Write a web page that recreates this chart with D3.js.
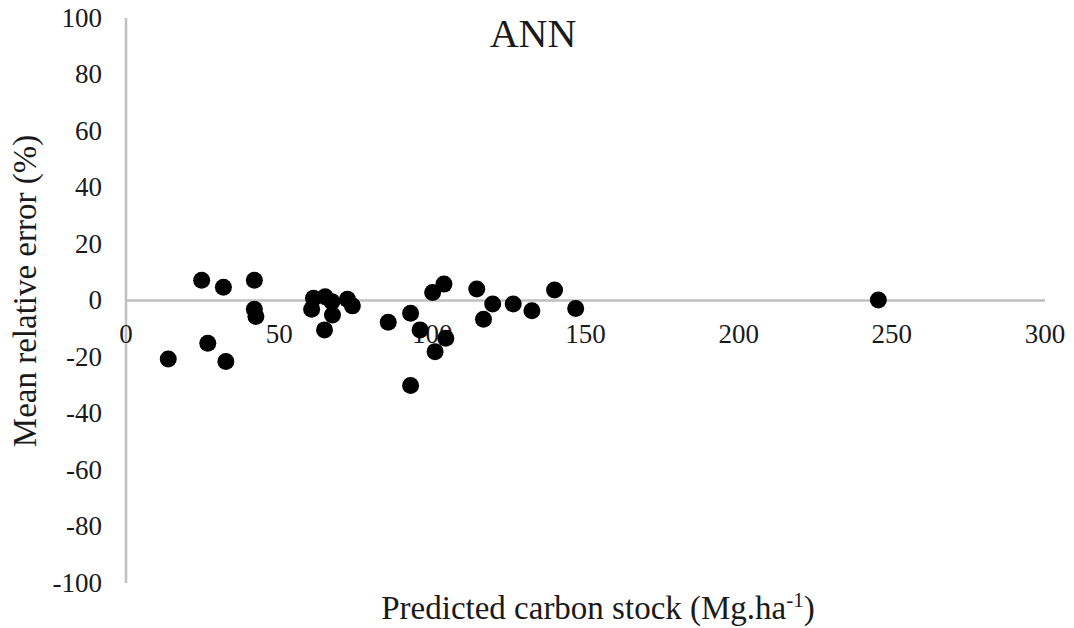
<!DOCTYPE html>
<html><head><meta charset="utf-8">
<script src="https://cdn.jsdelivr.net/npm/d3@7"></script>
<style>body{margin:0;background:#fff}svg{display:block}text{font-family:"Liberation Serif","Times New Roman",serif;fill:#1a1a1a}</style>
</head><body><svg id="c" width="1074" height="628"></svg>
<script>
const predicted = [13.8,24.7,26.7,31.8,32.6,41.9,41.9,42.4,60.6,61.2,64.8,65.0,67.2,67.4,72.3,73.9,85.6,92.9,92.9,96.0,100.1,100.9,103.8,104.4,114.5,116.7,119.7,126.4,132.5,139.9,146.8,245.6];
const relError = [-20.7,7.2,-15.1,4.7,-21.6,7.2,-3.1,-5.7,-3.1,0.8,-10.4,1.3,-0.4,-5.1,0.4,-1.9,-7.7,-4.5,-30.1,-10.4,2.8,-18.1,5.8,-13.4,4.1,-6.6,-1.2,-1.2,-3.6,3.7,-2.8,0.2];
const xTicks = [0,50,100,150,200,250,300];
const yTicks = [-100,-80,-60,-40,-20,0,20,40,60,80,100];
const title = "ANN";

const svg = d3.select("#c");
const x = d3.scaleLinear().domain([0,300]).range([126,1045]);
const y = d3.scaleLinear().domain([-100,100]).range([583,18]);

svg.append("line").attr("x1",x(0)).attr("x2",x(0)).attr("y1",y(100)).attr("y2",y(-100))
  .attr("stroke","#bfbfbf").attr("stroke-width",2.5);
svg.append("line").attr("x1",x(0)).attr("x2",x(300)).attr("y1",y(0)).attr("y2",y(0))
  .attr("stroke","#bfbfbf").attr("stroke-width",2.5);

svg.selectAll(".yt").data(yTicks).enter().append("text")
  .attr("x",102).attr("y",d=>y(d)).attr("dy","0.33em").attr("text-anchor","end")
  .attr("font-family","Liberation Serif").attr("font-size",27).text(d=>d);
svg.selectAll(".xt").data(xTicks).enter().append("text")
  .attr("x",d=>x(d)).attr("y",343).attr("text-anchor","middle")
  .attr("font-family","Liberation Serif").attr("font-size",27).text(d=>d);

svg.append("text").attr("x",533).attr("y",47).attr("text-anchor","middle").attr("font-size",40).text(title);

const xt = svg.append("text").attr("x",598).attr("y",619).attr("text-anchor","middle").attr("font-size",33);
xt.append("tspan").text("Predicted carbon stock (Mg.ha");
xt.append("tspan").attr("dy",-12).attr("font-size",21).text("-1");
xt.append("tspan").attr("dy",12).text(")");

svg.append("text").attr("transform","translate(36,291) rotate(-90)").attr("text-anchor","middle")
  .attr("font-size",33).text("Mean relative error (%)");

svg.selectAll(".pt").data(predicted).enter().append("circle")
  .attr("cx",d=>x(d)).attr("cy",(d,i)=>y(relError[i])).attr("r",8.5).attr("fill","#000");
</script></body></html>
